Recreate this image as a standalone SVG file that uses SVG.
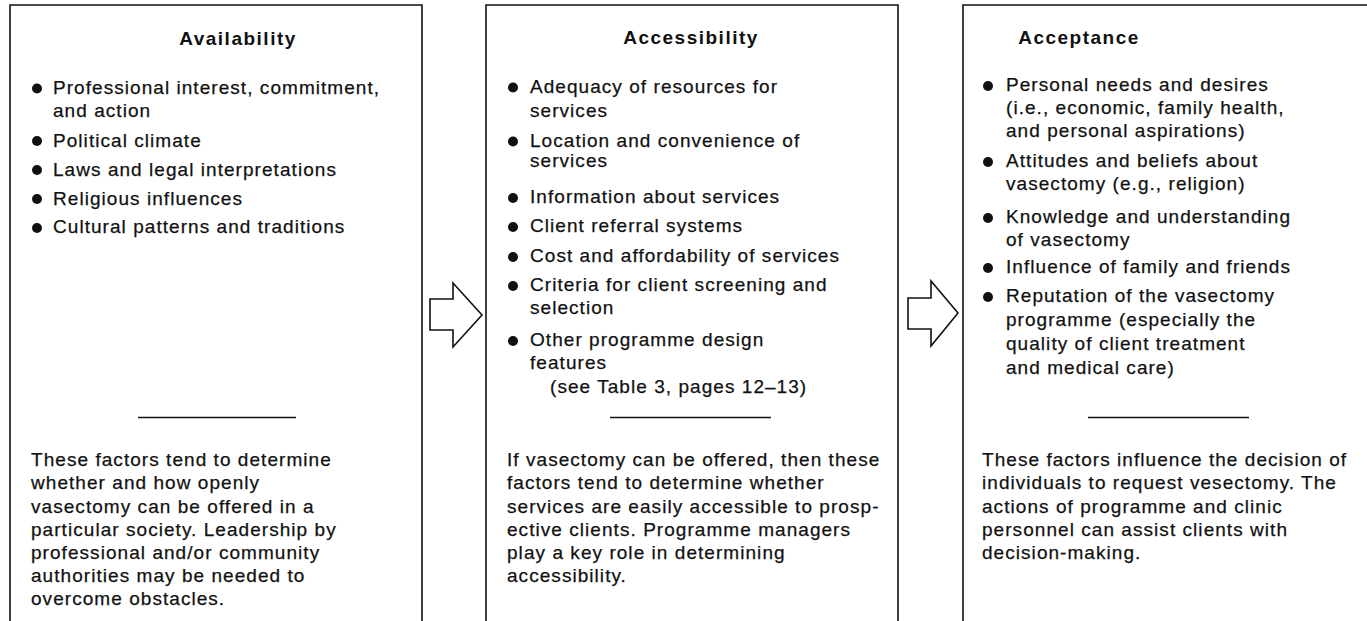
<svg xmlns="http://www.w3.org/2000/svg" width="1367" height="621" viewBox="0 0 1367 621">
<style>
.box{fill:none;stroke:#111;stroke-width:1.6}
.t{font-family:"Liberation Sans",Arial,sans-serif;font-size:19px;letter-spacing:1.05px;fill:#111;stroke:#111;stroke-width:0.25}
.h{font-family:"Liberation Sans",Arial,sans-serif;font-size:19px;font-weight:bold;letter-spacing:1.5px;fill:#111;text-anchor:middle}
.b{fill:#111}
.sep{stroke:#111;stroke-width:1.6}
.arr{fill:#fff;stroke:#111;stroke-width:1.6;stroke-linejoin:miter}
</style>
<rect width="1367" height="621" fill="#fff"/>
<g id="availability">
<path class="box" d="M10,625 V5 H422 V625"/>
<text class="h" x="238" y="45">Availability</text>
<circle class="b" cx="37" cy="88.5" r="5"/>
<text class="t" x="53" y="94">Professional interest, commitment,</text>
<text class="t" x="53" y="117">and action</text>
<circle class="b" cx="37" cy="141" r="5"/>
<text class="t" x="53" y="146.5">Political climate</text>
<circle class="b" cx="37" cy="170" r="5"/>
<text class="t" x="53" y="175.5">Laws and legal interpretations</text>
<circle class="b" cx="37" cy="199" r="5"/>
<text class="t" x="53" y="204.5">Religious influences</text>
<circle class="b" cx="37" cy="228" r="5"/>
<text class="t" x="53" y="233">Cultural patterns and traditions</text>
<line class="sep" x1="138" y1="417.5" x2="296" y2="417.5"/>
<text class="t" x="31" y="466">These factors tend to determine</text>
<text class="t" x="31" y="489">whether and how openly</text>
<text class="t" x="31" y="512.5">vasectomy can be offered in a</text>
<text class="t" x="31" y="536">particular society. Leadership by</text>
<text class="t" x="31" y="559">professional and/or community</text>
<text class="t" x="31" y="582">authorities may be needed to</text>
<text class="t" x="31" y="605">overcome obstacles.</text>
</g>
<g id="accessibility">
<path class="box" d="M486,625 V5 H898 V625"/>
<text class="h" x="691" y="44">Accessibility</text>
<circle class="b" cx="513" cy="87.5" r="5"/>
<text class="t" x="530" y="93">Adequacy of resources for</text>
<text class="t" x="530" y="117">services</text>
<circle class="b" cx="513" cy="141.5" r="5"/>
<text class="t" x="530" y="147">Location and convenience of</text>
<text class="t" x="530" y="167">services</text>
<circle class="b" cx="513" cy="198" r="5"/>
<text class="t" x="530" y="203">Information about services</text>
<circle class="b" cx="513" cy="227" r="5"/>
<text class="t" x="530" y="232">Client referral systems</text>
<circle class="b" cx="513" cy="257" r="5"/>
<text class="t" x="530" y="262">Cost and affordability of services</text>
<circle class="b" cx="513" cy="286" r="5"/>
<text class="t" x="530" y="291">Criteria for client screening and</text>
<text class="t" x="530" y="314">selection</text>
<circle class="b" cx="513" cy="341" r="5"/>
<text class="t" x="530" y="346">Other programme design</text>
<text class="t" x="530" y="369">features</text>
<text class="t" x="550" y="393">(see Table 3, pages 12–13)</text>
<line class="sep" x1="610" y1="417.5" x2="771" y2="417.5"/>
<text class="t" x="507" y="466">If vasectomy can be offered, then these</text>
<text class="t" x="507" y="489">factors tend to determine whether</text>
<text class="t" x="507" y="512.5">services are easily accessible to prosp-</text>
<text class="t" x="507" y="536">ective clients. Programme managers</text>
<text class="t" x="507" y="559">play a key role in determining</text>
<text class="t" x="507" y="582">accessibility.</text>
</g>
<g id="acceptance">
<path class="box" d="M963,625 V5 H1370"/>
<text class="h" x="1079" y="44">Acceptance</text>
<circle class="b" cx="988" cy="86" r="5"/>
<text class="t" x="1006" y="91">Personal needs and desires</text>
<text class="t" x="1006" y="114">(i.e., economic, family health,</text>
<text class="t" x="1006" y="137">and personal aspirations)</text>
<circle class="b" cx="988" cy="162" r="5"/>
<text class="t" x="1006" y="167">Attitudes and beliefs about</text>
<text class="t" x="1006" y="190">vasectomy (e.g., religion)</text>
<circle class="b" cx="988" cy="218" r="5"/>
<text class="t" x="1006" y="223">Knowledge and understanding</text>
<text class="t" x="1006" y="246">of vasectomy</text>
<circle class="b" cx="988" cy="268" r="5"/>
<text class="t" x="1006" y="273">Influence of family and friends</text>
<circle class="b" cx="988" cy="297" r="5"/>
<text class="t" x="1006" y="302">Reputation of the vasectomy</text>
<text class="t" x="1006" y="326">programme (especially the</text>
<text class="t" x="1006" y="350">quality of client treatment</text>
<text class="t" x="1006" y="374">and medical care)</text>
<line class="sep" x1="1088" y1="417.5" x2="1249" y2="417.5"/>
<text class="t" x="982" y="466">These factors influence the decision of</text>
<text class="t" x="982" y="489">individuals to request vesectomy. The</text>
<text class="t" x="982" y="512.5">actions of programme and clinic</text>
<text class="t" x="982" y="536">personnel can assist clients with</text>
<text class="t" x="982" y="559">decision-making.</text>
</g>
<g id="connectors">
<polygon class="arr" points="430,299 453,299 453,283 482,315 453,347 453,330 430,330"/>
<polygon class="arr" points="908,298 931,298 931,281 958,313 931,346 931,329 908,329"/>
</g>
</svg>
